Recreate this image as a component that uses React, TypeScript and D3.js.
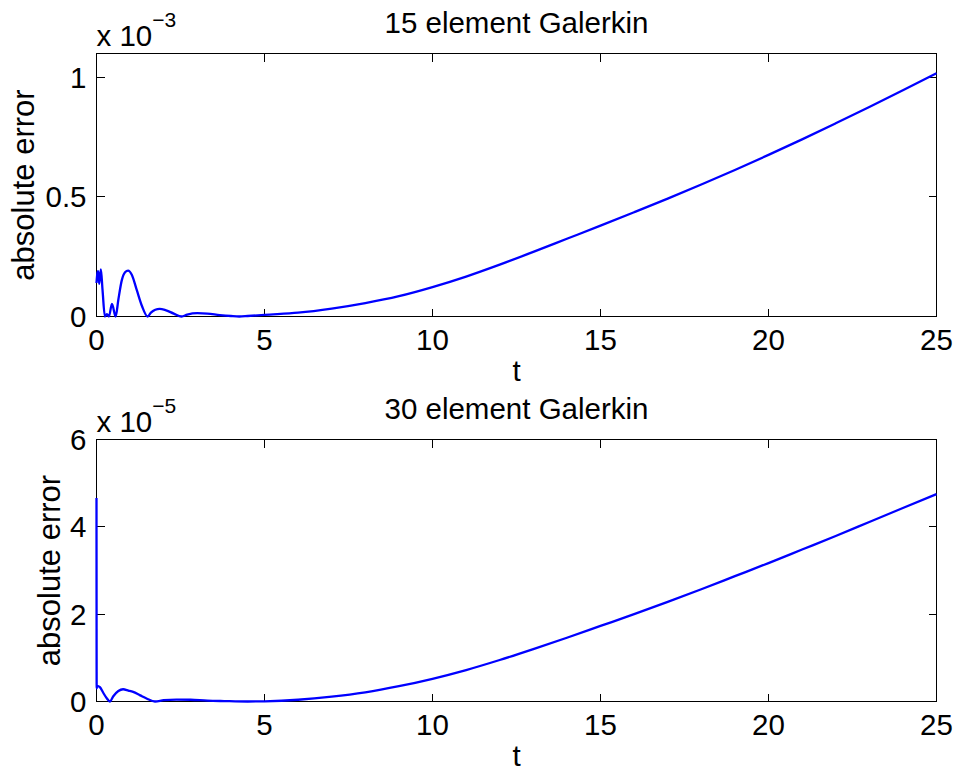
import React from "react";
import * as d3 from "d3";

// Absolute error of the Galerkin solution over time, two mesh sizes.
const tTop = [0, 0.03, 0.05, 0.08, 0.13, 0.18, 0.25, 0.31, 0.37, 0.46, 0.57, 0.65, 0.75, 0.85, 0.94, 1.05, 1.2, 1.35, 1.52, 1.62, 1.75, 1.88, 2.05, 2.3, 2.53, 2.7, 3.0, 3.3, 3.67, 4.0, 4.25, 4.5, 5, 6, 7, 8, 9, 10, 11, 12, 13, 14, 15, 16, 17, 18, 19, 20, 21, 22, 23, 24, 25];
const errTop = [0.14, 0.185, 0.19, 0.137, 0.197, 0.11, 0.0, 0.01, 0.0, 0.053, 0.0, 0.07, 0.15, 0.185, 0.192, 0.175, 0.11, 0.045, 0.0, 0.016, 0.028, 0.032, 0.027, 0.012, 0.0, 0.008, 0.014, 0.012, 0.006, 0.002, 0.0, 0.002, 0.007, 0.016, 0.033, 0.056, 0.085, 0.123, 0.167, 0.217, 0.27, 0.325, 0.38, 0.436, 0.493, 0.552, 0.613, 0.676, 0.741, 0.808, 0.876, 0.946, 1.017];

const tBottom = [0, 0.005, 0.02, 0.1, 0.2, 0.3, 0.4, 0.5, 0.65, 0.79, 0.95, 1.09, 1.3, 1.49, 1.74, 2.0, 2.38, 2.8, 3.3, 3.8, 4.5, 5, 6, 7, 8, 9, 10, 11, 12, 13, 14, 15, 16, 17, 18, 19, 20, 21, 22, 23, 24, 25];
const errBottom = [4.66, 0.3, 0.36, 0.33, 0.2, 0.08, 0.0, 0.12, 0.24, 0.28, 0.25, 0.22, 0.14, 0.07, 0.0, 0.03, 0.045, 0.04, 0.02, 0.01, 0.0, 0.005, 0.04, 0.11, 0.21, 0.35, 0.52, 0.72, 0.95, 1.2, 1.46, 1.73, 2.0, 2.28, 2.57, 2.87, 3.17, 3.48, 3.79, 4.11, 4.43, 4.75];

const xTicks = [0, 5, 10, 15, 20, 25];
const yTicksTop = [0, 0.5, 1];
const yTicksBottom = [0, 2, 4, 6];

const FONT = "'Liberation Sans', Arial, Helvetica, sans-serif";
const W = 957;
const H = 773;

type PanelProps = {
  title: string;
  exponent: string;
  t: number[];
  v: number[];
  yMax: number;
  yTicks: number[];
  top: number;
  bottom: number;
  yLabelX: number;
};

function Panel({ title, exponent, t, v, yMax, yTicks, top, bottom, yLabelX }: PanelProps) {
  const left = 96.5;
  const right = 936.5;
  const x = d3.scaleLinear().domain([0, 25]).range([left, right]);
  const y = d3.scaleLinear().domain([0, yMax]).range([bottom, top]);
  const pts: [number, number][] = t.map((ti, i) => [ti, v[i]]);
  const line = d3
    .line<[number, number]>()
    .x((d) => x(d[0]))
    .y((d) => y(d[1]))
    .curve(d3.curveMonotoneX);
  const tl = 8;
  const fs = 29.5;
  return (
    <g>
      <text x={(left + right) / 2} y={top - 21} textAnchor="middle" fontSize={fs} fontFamily={FONT}>
        {title}
      </text>
      <text x={left} y={top - 8} fontSize={fs} fontFamily={FONT}>
        x 10
        <tspan dy={-19} fontSize={21}>
          {exponent}
        </tspan>
      </text>
      <g stroke="#000" strokeWidth={1} shapeRendering="crispEdges">
        <rect x={left} y={top} width={right - left} height={bottom - top} fill="none" />
        {xTicks.map((d) => (
          <g key={`x${d}`}>
            <line x1={x(d)} x2={x(d)} y1={bottom} y2={bottom - tl} />
            <line x1={x(d)} x2={x(d)} y1={top} y2={top + tl} />
          </g>
        ))}
        {yTicks.map((d) => (
          <g key={`y${d}`}>
            <line x1={left} x2={left + tl} y1={y(d)} y2={y(d)} />
            <line x1={right} x2={right - tl} y1={y(d)} y2={y(d)} />
          </g>
        ))}
      </g>
      <path d={line(pts) ?? ""} fill="none" stroke="#0000ff" strokeWidth={2.3} />
      {xTicks.map((d) => (
        <text key={`xl${d}`} x={x(d)} y={bottom + 33} textAnchor="middle" fontSize={fs} fontFamily={FONT}>
          {d}
        </text>
      ))}
      {yTicks.map((d) => (
        <text key={`yl${d}`} x={left - 10} y={y(d) + 10.5} textAnchor="end" fontSize={fs} fontFamily={FONT}>
          {d}
        </text>
      ))}
      <text x={(left + right) / 2} y={bottom + 64} textAnchor="middle" fontSize={fs} fontFamily={FONT}>
        t
      </text>
      <text
        transform={`translate(${yLabelX},${(top + bottom) / 2}) rotate(-90)`}
        textAnchor="middle"
        fontSize={31}
        fontFamily={FONT}
      >
        absolute error
      </text>
    </g>
  );
}

export default function App() {
  return (
    <svg
      width={W}
      height={H}
      viewBox={`0 0 ${W} ${H}`}
      style={{ position: "absolute", left: 0, top: 0, background: "#fff" }}
    >
      <rect width={W} height={H} fill="#fff" />
      <Panel
        title="15 element Galerkin"
        exponent="−3"
        t={tTop}
        v={errTop}
        yMax={1.1}
        yTicks={yTicksTop}
        top={53.5}
        bottom={316.5}
        yLabelX={34}
      />
      <Panel
        title="30 element Galerkin"
        exponent="−5"
        t={tBottom}
        v={errBottom}
        yMax={6}
        yTicks={yTicksBottom}
        top={439.5}
        bottom={701.5}
        yLabelX={60}
      />
    </svg>
  );
}
